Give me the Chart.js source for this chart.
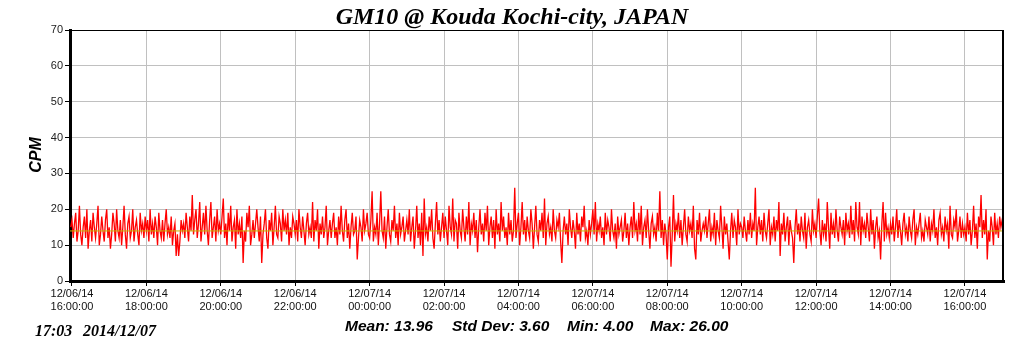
<!DOCTYPE html>
<html>
<head>
<meta charset="utf-8">
<style>
  html, body { margin: 0; padding: 0; background: #fff; }
  canvas { display: block; }
</style>
<script src="https://cdn.jsdelivr.net/npm/chart.js@4.4.1/dist/chart.umd.min.js"></script>
</head>
<body>
<canvas id="cpmChart" width="1024" height="351"></canvas>
<script>
// minutes after 12/06/14 16:00:00, one reading every 2 minutes
const startMinute = -2;
const stepMinutes = 2;

// CPM readings, one row per hour
const cpmValues = [
  15,
  17,12,16,19,11,14,21,13,10,15,18,12,20,9,14,17,11,19,15,12,16,21,10,13,18,14,11,17,20,12,
  15,9,13,19,16,11,20,14,12,17,10,15,21,13,9,16,18,12,14,20,11,15,17,13,10,19,14,16,12,18,
  14,17,11,20,13,16,12,18,15,10,19,14,12,17,11,16,20,13,15,12,18,10,14,16,7,13,7,11,17,14,
  16,12,19,15,11,18,14,24,13,17,20,12,16,22,11,15,19,13,21,14,10,17,22,12,15,18,11,20,14,16,
  13,18,23,12,16,10,19,14,21,11,15,17,9,20,13,16,12,18,5,14,11,19,15,21,10,13,17,12,16,20,
  15,11,18,5,13,16,20,12,9,17,14,19,10,15,21,13,12,18,16,11,20,14,17,13,19,10,15,12,18,16,
  13,17,11,20,15,12,18,14,10,16,19,13,15,12,22,11,17,14,20,9,16,13,18,12,15,21,10,14,17,12,
  16,19,12,15,10,18,13,21,14,11,17,20,12,16,9,15,19,13,14,18,6,12,17,15,11,20,14,16,19,13,
  12,17,25,11,15,13,19,10,16,25,14,12,18,9,15,20,13,11,17,14,21,12,16,10,19,13,15,18,11,14,
  17,13,20,11,15,18,9,14,21,12,16,10,19,7,23,13,15,11,18,14,20,12,9,16,22,13,17,11,15,19,
  12,18,14,10,21,15,13,23,11,17,16,9,19,14,12,20,15,11,18,13,22,10,16,14,19,12,17,8,15,20,
  13,16,11,19,14,21,10,15,18,12,17,9,20,13,16,11,22,14,18,12,15,10,19,13,17,11,14,26,12,16,
  19,10,15,22,13,17,11,18,14,12,20,16,9,15,21,13,11,17,14,19,12,23,10,16,18,13,15,11,20,14,
  12,17,15,19,11,5,14,18,13,16,10,20,15,12,17,14,9,19,13,16,11,18,15,21,12,14,10,17,13,16,
  20,13,22,11,16,14,18,12,15,10,19,13,17,15,11,20,14,12,16,9,18,13,15,17,11,14,19,12,16,10,
  15,18,12,22,14,16,11,19,13,21,10,15,17,12,20,14,9,16,18,13,15,11,19,14,25,12,17,10,16,13,
  6,15,18,4,13,24,11,16,14,19,12,17,10,15,20,13,11,18,14,16,12,21,9,6,17,13,19,11,14,16,
  14,18,12,16,20,11,15,13,19,10,17,14,12,21,15,9,18,13,16,11,6,14,19,12,17,15,10,20,13,16,
  15,12,18,14,11,17,13,19,12,16,14,26,10,15,18,13,17,11,19,14,12,16,20,10,15,13,18,11,17,14,
  22,7,16,13,19,11,15,18,10,17,14,12,5,15,20,13,16,11,18,14,12,19,9,15,17,13,11,20,14,16,
  12,18,23,14,10,17,13,16,11,22,15,9,19,13,16,12,20,14,11,18,15,13,17,10,19,14,16,12,21,13,
  17,11,22,15,13,22,10,18,14,16,12,19,15,11,20,13,17,9,15,18,12,14,6,16,22,11,19,13,15,12,
  16,13,18,11,15,20,12,17,14,10,16,19,13,15,11,18,14,12,17,20,10,15,13,16,19,12,14,11,17,15,
  13,18,11,16,14,20,12,15,10,17,19,13,15,11,18,14,16,9,21,13,12,17,15,20,11,14,18,12,16,13,
  15,11,19,13,17,10,14,21,12,16,9,18,15,24,12,17,13,20,6,14,11,18,15,10,19,13,16,12,18,15,
  17,19
];

const meanValue = 13.96;
const statLabels = ["Mean: 13.96", "Std Dev: 3.60", "Min: 4.00", "Max: 26.00"];

const xTickMinutes = [0, 120, 240, 360, 480, 600, 720, 840, 960, 1080, 1200, 1320, 1440];
const xTickDates = ["12/06/14", "12/06/14", "12/06/14", "12/06/14", "12/07/14", "12/07/14", "12/07/14",
  "12/07/14", "12/07/14", "12/07/14", "12/07/14", "12/07/14", "12/07/14"];
const xTickTimes = ["16:00:00", "18:00:00", "20:00:00", "22:00:00", "00:00:00", "02:00:00", "04:00:00",
  "06:00:00", "08:00:00", "10:00:00", "12:00:00", "14:00:00", "16:00:00"];
const yTicks = [0, 10, 20, 30, 40, 50, 60, 70];

const xMin = -3.2, xMax = 1503;

const cpmPoints = cpmValues.map((v, i) => ({ x: startMinute + i * stepMinutes, y: v }));
const meanPoints = [{ x: xMin, y: meanValue }, { x: xMax, y: meanValue }];

const sans = '"Liberation Sans", Arial, sans-serif';
const serif = '"Liberation Serif", "Times New Roman", serif';

// frame, title and the texts round the plot
const decorations = {
  id: "decorations",
  afterDraw(chart) {
    const c = chart.ctx;
    const a = chart.chartArea;
    c.save();
    c.strokeStyle = "#000";
    c.lineWidth = 1;
    c.beginPath();
    c.moveTo(a.left, a.top + 0.5);
    c.lineTo(a.right, a.top + 0.5);
    c.stroke();
    c.lineWidth = 2;
    c.beginPath();
    c.moveTo(a.right - 1, a.top);
    c.lineTo(a.right - 1, a.bottom);
    c.stroke();

    c.fillStyle = "#000";
    c.textBaseline = "alphabetic";
    c.textAlign = "center";
    c.font = "italic bold 24px " + serif;
    c.fillText("GM10 @ Kouda Kochi-city, JAPAN", 512, 24);

    c.save();
    c.translate(37, 155);
    c.rotate(-Math.PI / 2);
    c.textBaseline = "middle";
    c.font = "italic bold 16px " + sans;
    c.fillText("CPM", 0, 0);
    c.restore();

    c.textAlign = "left";
    c.textBaseline = "middle";
    c.font = "italic bold 15.5px " + sans;
    const statX = [345, 452, 567, 650];
    statLabels.forEach((t, i) => c.fillText(t, statX[i], 327));

    c.font = "italic bold 16px " + serif;
    c.fillText("17:03", 35, 332);
    c.fillText("2014/12/07", 83, 332);
    c.restore();
  }
};

var ctx = document.getElementById("cpmChart").getContext("2d");
var cpmChart = new Chart(ctx, {
  type: "line",
  data: {
    datasets: [
      { data: meanPoints, borderColor: "#c8b000", borderWidth: 1, pointRadius: 0, order: 0 },
      { data: cpmPoints, borderColor: "#ff0000", borderWidth: 1.3, pointRadius: 0, tension: 0, order: 1 }
    ]
  },
  options: {
    responsive: false,
    animation: false,
    events: [],
    layout: { padding: { top: 30, right: 20, left: 0, bottom: 0 } },
    plugins: {
      legend: { display: false },
      tooltip: { enabled: false }
    },
    scales: {
      x: {
        type: "linear",
        min: xMin,
        max: xMax,
        afterBuildTicks: (s) => { s.ticks = xTickMinutes.map((v) => ({ value: v })); },
        afterFit: (s) => { s.height = 70; },
        grid: { color: "#c0c0c0", tickColor: "#000", tickLength: 5 },
        border: { color: "#000", width: 3 },
        ticks: {
          autoSkip: false,
          maxRotation: 0,
          padding: 1,
          color: "#111",
          font: { family: sans, size: 11, lineHeight: 1.2 },
          callback: (v) => {
            const i = xTickMinutes.indexOf(v);
            return [xTickDates[i], xTickTimes[i]];
          }
        }
      },
      y: {
        min: 0,
        max: 70,
        afterBuildTicks: (s) => { s.ticks = yTicks.map((v) => ({ value: v })); },
        afterFit: (s) => { s.width = 70; },
        grid: { color: "#c0c0c0", tickColor: "#000", tickLength: 5 },
        border: { color: "#000", width: 3 },
        ticks: {
          padding: 2,
          color: "#222",
          font: { family: sans, size: 11 }
        }
      }
    }
  },
  plugins: [decorations]
});
</script>
</body>
</html>
